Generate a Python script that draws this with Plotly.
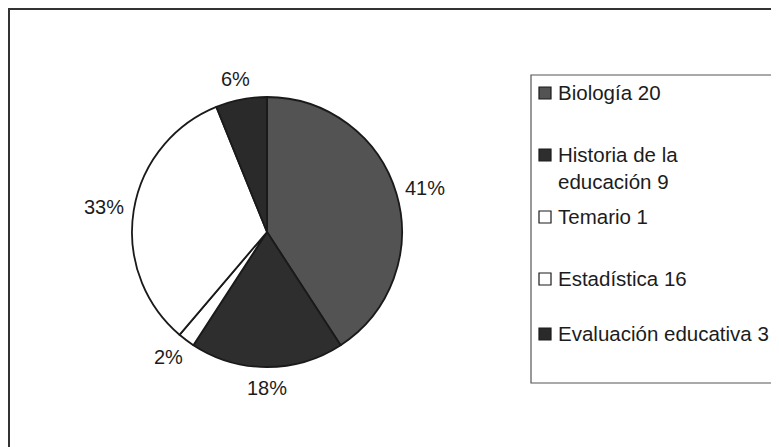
import math
import plotly.graph_objects as go

categories = ["Biología", "Historia de la educación", "Temario", "Estadística", "Evaluación educativa"]
values = [20, 9, 1, 16, 3]
legend_labels = ["Biología 20", "Historia de la<br>educación 9", "Temario 1", "Estadística 16", "Evaluación educativa 3"]
colors = ["#535353", "#2e2e2e", "#ffffff", "#ffffff", "#2a2a2a"]

# page body has an 8px margin, so the figure starts at window (8, 8)
OFF = 8
W, H = 779, 447
FONT = "Liberation Sans, Arial, sans-serif"
TXT = "#1c1c1c"


def px(x):
    return (x - OFF) / W


def py(y):
    return 1 - (y - OFF) / H


cx, cy, r = 267, 232, 135

fig = go.Figure(go.Pie(
    labels=categories,
    values=values,
    sort=False,
    direction="clockwise",
    rotation=0,
    marker=dict(colors=colors, line=dict(color="#1a1a1a", width=1.8)),
    textinfo="none",
    showlegend=False,
    hoverinfo="label+value+percent",
    domain=dict(x=[px(cx - r), px(cx + r)], y=[py(cy + r), py(cy - r)]),
))

shapes = [
    # outer chart border
    dict(type="rect", xref="paper", yref="paper", x0=px(9), x1=px(800), y0=py(470), y1=py(9),
         line=dict(color="#333333", width=2), fillcolor="rgba(0,0,0,0)", layer="below"),
    # legend box
    dict(type="rect", xref="paper", yref="paper", x0=px(531), x1=px(800), y0=py(383), y1=py(75),
         line=dict(color="#555555", width=1.2), fillcolor="rgba(0,0,0,0)", layer="below"),
]

annotations = []

# percentage labels outside the slices, placed along each slice's mid-angle
total = sum(values)
cum = 0
rx, ry = 165, 156
for v in values:
    mid = (cum + v / 2) / total * 2 * math.pi  # clockwise from 12 o'clock
    cum += v
    lx = cx + rx * math.sin(mid)
    ly = cy - ry * math.cos(mid)
    annotations.append(dict(text=f"{round(v / total * 100)}%", xref="paper", yref="paper",
                            x=px(lx), y=py(ly), xanchor="center", yanchor="middle",
                            showarrow=False, font=dict(family=FONT, size=20, color=TXT)))

# legend drawn as a boxed list
entry_y = [93, 155, 217, 279, 334]
for lab, col, yy in zip(legend_labels, colors, entry_y):
    shapes.append(dict(type="rect", xref="paper", yref="paper",
                       x0=px(539), x1=px(551), y0=py(yy + 6), y1=py(yy - 6),
                       fillcolor=col, line=dict(color="#1a1a1a", width=1.2)))
    annotations.append(dict(text=lab, xref="paper", yref="paper", x=px(556), y=py(yy - 14),
                            xanchor="left", yanchor="top", align="left", showarrow=False,
                            font=dict(family=FONT, size=20.5, color=TXT)))

fig.update_layout(
    width=W, height=H,
    margin=dict(l=0, r=0, t=0, b=0),
    paper_bgcolor="white",
    plot_bgcolor="white",
    shapes=shapes,
    annotations=annotations,
)

fig.write_html("out.html")
